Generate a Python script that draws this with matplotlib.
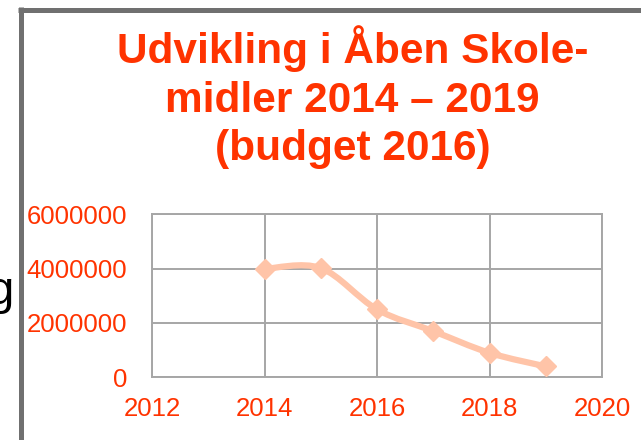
import matplotlib
matplotlib.use("Agg")
import matplotlib.pyplot as plt
from matplotlib.path import Path
from matplotlib.patches import PathPatch
from matplotlib.lines import Line2D
import numpy as np

# ---- data ----
years = [2014, 2015, 2016, 2017, 2018, 2019]
amounts = [3990000, 4020000, 2500000, 1700000, 900000, 400000]
title_text = "Udvikling i Åben Skole-\nmidler 2014 – 2019\n(budget 2016)"
xticks = [2012, 2014, 2016, 2018, 2020]
yticks = [0, 2000000, 4000000, 6000000]

W, H = 641, 440
fig = plt.figure(figsize=(W / 100, H / 100), dpi=100)
fig.patch.set_facecolor("white")

RED = "#FF3300"
LINE = "#FFC4A8"
GRID = "#A6A6A6"

def fx(px):
    return px / W

def fy(py):
    return 1 - py / H

ax = fig.add_axes([fx(152), fy(377.3), fx(602) - fx(152), fy(214.3) - fy(377.3)])
ax.set_xlim(2012, 2020)
ax.set_ylim(0, 6000000)
ax.set_xticks(xticks)
ax.set_yticks(yticks)
ax.set_xticklabels([str(t) for t in xticks])
ax.set_yticklabels([str(t) for t in yticks])
ax.grid(True, color=GRID, linewidth=1.4)
ax.set_axisbelow(True)
for s in ax.spines.values():
    s.set_color(GRID)
    s.set_linewidth(1.4)
ax.tick_params(axis="both", length=0, labelcolor=RED, labelsize=18.5)
ax.tick_params(axis="y", pad=18)
ax.tick_params(axis="x", pad=14)
for lab in ax.get_xticklabels() + ax.get_yticklabels():
    lab.set_fontfamily("Liberation Sans")

# smoothed line (Catmull-Rom style bezier through the data points)
pts = np.column_stack([years, amounts]).astype(float)
n = len(pts)
verts = [pts[0]]
codes = [Path.MOVETO]
for i in range(n - 1):
    p_prev = pts[i - 1] if i > 0 else pts[i]
    p0 = pts[i]
    p1 = pts[i + 1]
    p_next = pts[i + 2] if i + 2 < n else pts[i + 1]
    c1 = p0 + (p1 - p_prev) / 6.0
    c2 = p1 - (p_next - p0) / 6.0
    verts += [c1, c2, p1]
    codes += [Path.CURVE4] * 3
ax.add_patch(PathPatch(Path(verts, codes), facecolor="none", edgecolor=LINE,
                       linewidth=4.5, capstyle="round", joinstyle="round", zorder=3))
ax.plot(years, amounts, linestyle="none", marker="D", markersize=10,
        color=LINE, markeredgecolor=LINE, zorder=4)

fig.text(0.5 * (fx(117) + fx(588)), fy(160), title_text, ha="center", va="baseline",
         fontsize=30.5, fontweight="bold", color=RED, family="Liberation Sans",
         linespacing=1.27, multialignment="center")

# slide frame and clipped letter
fig.add_artist(Line2D([fx(20.5), fx(20.5)], [fy(7), fy(445)], color="#707070",
                      linewidth=3.6, solid_capstyle="butt"))
fig.add_artist(Line2D([fx(18), fx(645)], [fy(9.8), fy(9.8)], color="#707070",
                      linewidth=3.6, solid_capstyle="butt"))
fig.text(fx(14), fy(304), "g", ha="right", va="baseline", fontsize=34,
         color="black", family="Liberation Sans")

fig.savefig("out.png", dpi=100, facecolor="white")
